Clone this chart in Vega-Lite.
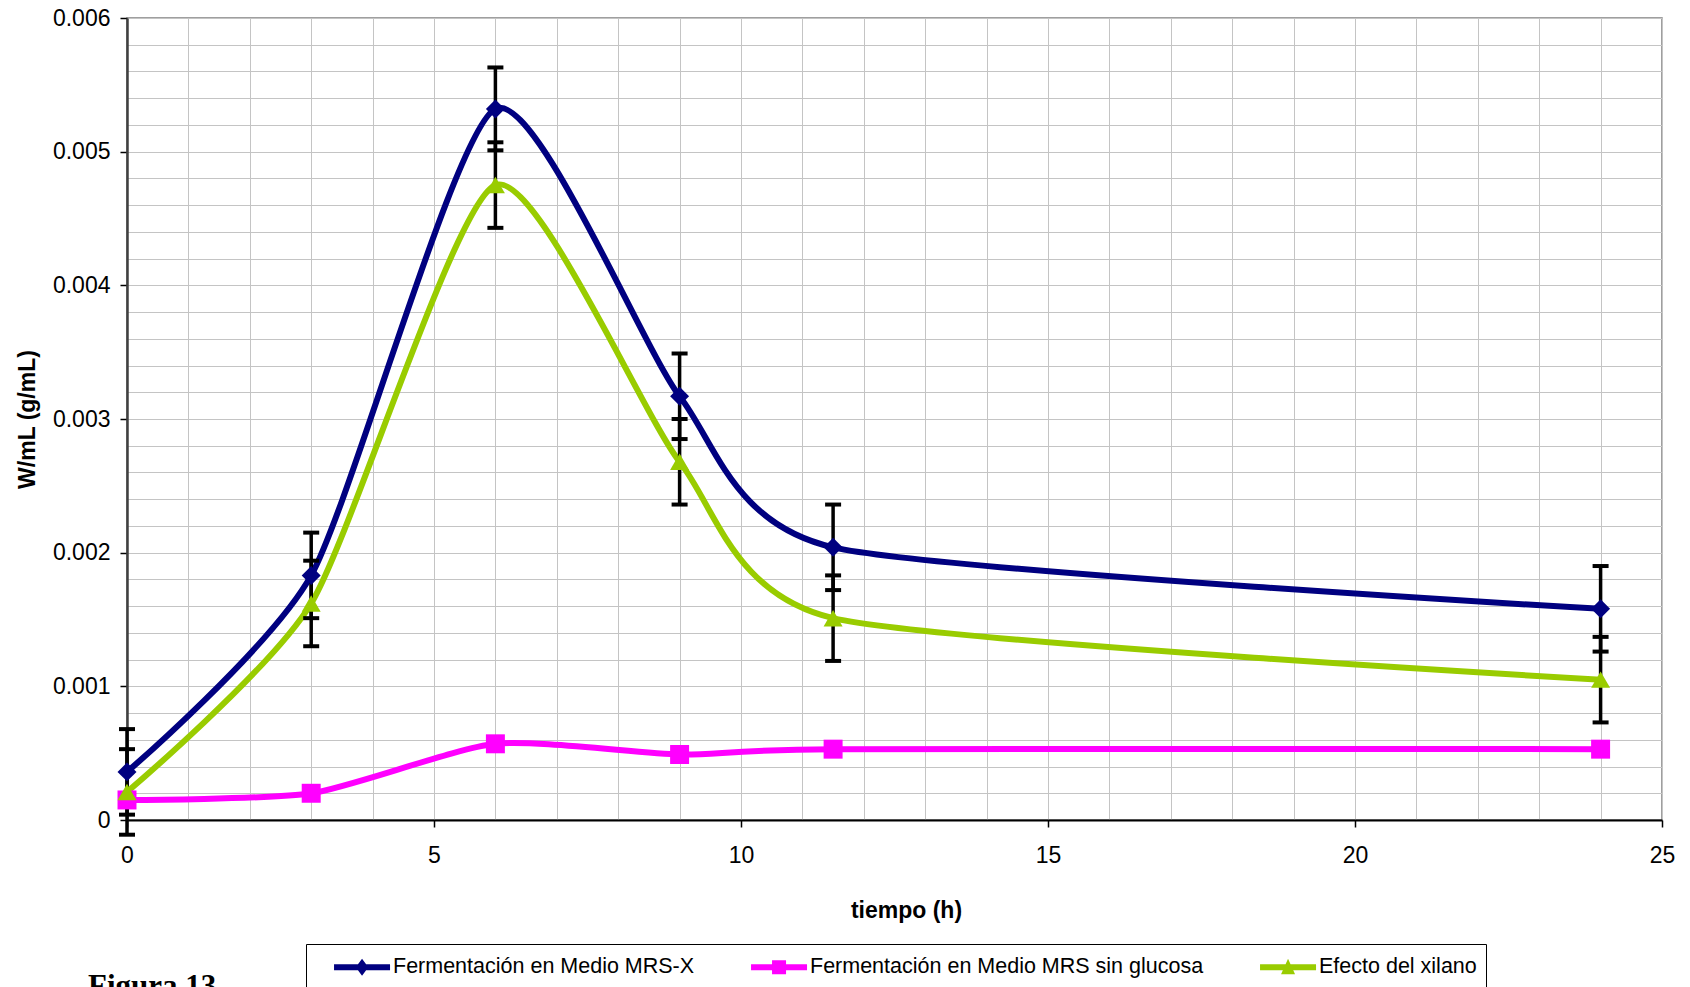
{
  "$schema": "https://vega.github.io/schema/vega-lite/v6.json",
  "autosize": {"type": "none"},
  "padding": {"left": 127, "top": 18, "right": 28, "bottom": 167},
  "width": 1535,
  "height": 802,
  "background": "white",
  "config": {
    "font": "Liberation Sans",
    "view": {"stroke": "#808080", "strokeWidth": 1.5},
    "axis": {"gridColor": "#c4c4c4", "gridWidth": 1, "labelColor": "black", "titleColor": "black"}
  },
  "title": {
    "text": "Figura 13",
    "orient": "bottom",
    "anchor": "start",
    "frame": "group",
    "offset": -16,
    "dx": -39,
    "font": "Liberation Serif",
    "fontSize": 31,
    "fontWeight": "bold",
    "color": "black"
  },
  "data": {
    "values": [
      {"t": 0, "serie": "Fermentación en Medio MRS-X", "v": 0.00036, "lo": 0.00004, "hi": 0.00068},
      {"t": 3, "serie": "Fermentación en Medio MRS-X", "v": 0.00183, "lo": 0.00151, "hi": 0.00215},
      {"t": 6, "serie": "Fermentación en Medio MRS-X", "v": 0.00532, "lo": 0.00501, "hi": 0.00563},
      {"t": 9, "serie": "Fermentación en Medio MRS-X", "v": 0.00317, "lo": 0.00285, "hi": 0.00349},
      {"t": 11.5, "serie": "Fermentación en Medio MRS-X", "v": 0.00204, "lo": 0.00172, "hi": 0.00236},
      {"t": 24, "serie": "Fermentación en Medio MRS-X", "v": 0.00158, "lo": 0.00126, "hi": 0.0019},
      {"t": 0, "serie": "Fermentación en Medio MRS sin glucosa", "v": 0.00015},
      {"t": 3, "serie": "Fermentación en Medio MRS sin glucosa", "v": 0.0002},
      {"t": 6, "serie": "Fermentación en Medio MRS sin glucosa", "v": 0.00057},
      {"t": 9, "serie": "Fermentación en Medio MRS sin glucosa", "v": 0.00049},
      {"t": 11.5, "serie": "Fermentación en Medio MRS sin glucosa", "v": 0.00053},
      {"t": 24, "serie": "Fermentación en Medio MRS sin glucosa", "v": 0.00053},
      {"t": 0, "serie": "Efecto del xilano", "v": 0.00021, "lo": -0.00011, "hi": 0.00053},
      {"t": 3, "serie": "Efecto del xilano", "v": 0.00162, "lo": 0.0013, "hi": 0.00194},
      {"t": 6, "serie": "Efecto del xilano", "v": 0.00475, "lo": 0.00443, "hi": 0.00507},
      {"t": 9, "serie": "Efecto del xilano", "v": 0.00268, "lo": 0.00236, "hi": 0.003},
      {"t": 11.5, "serie": "Efecto del xilano", "v": 0.00151, "lo": 0.00119, "hi": 0.00183},
      {"t": 24, "serie": "Efecto del xilano", "v": 0.00105, "lo": 0.00073, "hi": 0.00137}
    ]
  },
  "resolve": {"scale": {"shape": "independent", "color": "independent"}, "legend": {"color": "independent", "shape": "independent"}},
  "layer": [
    {
      "mark": {"type": "line", "interpolate": "cardinal", "tension": 0.35, "strokeWidth": 6, "clip": false},
      "encoding": {
        "x": {
          "field": "t", "type": "quantitative",
          "scale": {"domain": [0, 25], "nice": false},
          "axis": {
            "values": [0,1,2,3,4,5,6,7,8,9,10,11,12,13,14,15,16,17,18,19,20,21,22,23,24,25],
            "tickCount": 60,
            "grid": true,
            "labelExpr": "datum.value % 5 === 0 ? '' + datum.value : ''",
            "labelOverlap": false,
            "labelFlush": false,
            "labelFontSize": 23,
            "labelPadding": 17,
            "tickSize": 7,
            "tickOpacity": {"condition": {"test": "datum.value % 5 === 0", "value": 1}, "value": 0},
            "tickColor": "black",
            "tickWidth": 1.5,
            "domainColor": "black",
            "domainWidth": 2,
            "title": "tiempo (h)",
            "titleFontSize": 23,
            "titleFontWeight": "bold",
            "titlePadding": 32,
            "titleX": 779
          }
        },
        "y": {
          "field": "v", "type": "quantitative",
          "scale": {"domain": [0, 0.006], "nice": false},
          "axis": {
            "values": [0,0.0002,0.0004,0.0006,0.0008,0.001,0.0012,0.0014,0.0016,0.0018,0.002,0.0022,0.0024,0.0026,0.0028,0.003,0.0032,0.0034,0.0036,0.0038,0.004,0.0042,0.0044,0.0046,0.0048,0.005,0.0052,0.0054,0.0056,0.0058,0.006],
            "tickCount": 60,
            "grid": true,
            "labelExpr": "abs(datum.value*1000 - round(datum.value*1000)) < 0.001 ? (datum.value == 0 ? '0' : format(datum.value, '.3f')) : ''",
            "labelOverlap": false,
            "labelFontSize": 23,
            "labelPadding": 10,
            "tickSize": 7,
            "tickOpacity": {"condition": {"test": "abs(datum.value*1000 - round(datum.value*1000)) < 0.001", "value": 1}, "value": 0},
            "tickColor": "black",
            "tickWidth": 1.5,
            "domainColor": "#404040",
            "domainWidth": 2.5,
            "title": "W/mL (g/mL)",
            "titleFontSize": 23,
            "titleFontWeight": "bold",
            "titlePadding": 13
          }
        },
        "color": {
          "field": "serie", "type": "nominal",
          "scale": {
            "domain": ["Fermentación en Medio MRS-X", "Fermentación en Medio MRS sin glucosa", "Efecto del xilano"],
            "range": ["#000080", "#FF00FF", "#99CC00"]
          },
          "legend": null
        }
      }
    },
    {
      "transform": [{"filter": "isValid(datum.hi)"}],
      "mark": {"type": "rule", "color": "black", "strokeWidth": 3.5, "clip": false},
      "encoding": {
        "x": {"field": "t", "type": "quantitative"},
        "y": {"field": "lo", "type": "quantitative"},
        "y2": {"field": "hi"}
      }
    },
    {
      "transform": [{"filter": "isValid(datum.hi)"}],
      "mark": {"type": "tick", "orient": "horizontal", "color": "black", "size": 16, "thickness": 4, "opacity": 1, "clip": false},
      "encoding": {
        "x": {"field": "t", "type": "quantitative"},
        "y": {"field": "hi", "type": "quantitative"}
      }
    },
    {
      "transform": [{"filter": "isValid(datum.lo)"}],
      "mark": {"type": "tick", "orient": "horizontal", "color": "black", "size": 16, "thickness": 4, "opacity": 1, "clip": false},
      "encoding": {
        "x": {"field": "t", "type": "quantitative"},
        "y": {"field": "lo", "type": "quantitative"}
      }
    },
    {
      "mark": {"type": "point", "filled": true, "opacity": 1, "size": 360, "clip": false},
      "encoding": {
        "x": {"field": "t", "type": "quantitative"},
        "y": {"field": "v", "type": "quantitative"},
        "color": {
          "field": "serie", "type": "nominal",
          "scale": {
            "domain": ["Fermentación en Medio MRS-X", "Fermentación en Medio MRS sin glucosa", "Efecto del xilano"],
            "range": ["#000080", "#FF00FF", "#99CC00"]
          },
          "legend": null
        },
        "shape": {
          "field": "serie", "type": "nominal",
          "scale": {
            "domain": ["Fermentación en Medio MRS-X", "Fermentación en Medio MRS sin glucosa", "Efecto del xilano"],
            "range": ["diamond", "square", "triangle-up"]
          },
          "legend": null
        }
      }
    },
    {
      "mark": {"type": "point", "filled": true, "opacity": 0, "size": 784, "clip": false},
      "encoding": {
        "x": {"field": "t", "type": "quantitative"},
        "y": {"field": "v", "type": "quantitative"},
        "color": {
          "field": "serie", "type": "nominal",
          "scale": {
            "domain": ["Fermentación en Medio MRS-X", "Fermentación en Medio MRS sin glucosa", "Efecto del xilano"],
            "range": ["#000080", "#FF00FF", "#99CC00"]
          },
          "legend": {
            "title": null,
            "orient": "none",
            "legendX": 179,
            "legendY": 926,
            "direction": "horizontal",
            "columns": 3,
            "strokeColor": "black",
            "fillColor": "white",
            "padding": 9,
            "labelFontSize": 21.5,
            "labelColor": "black",
            "labelLimit": 0,
            "labelOffset": 50,
            "columnPadding": 37,
            "symbolSize": 784,
            "symbolOpacity": 1,
            "symbolStrokeWidth": 0
          }
        },
        "shape": {
          "field": "serie", "type": "nominal",
          "scale": {
            "domain": ["Fermentación en Medio MRS-X", "Fermentación en Medio MRS sin glucosa", "Efecto del xilano"],
            "range": [
              "M0.36,-0.21L4.36,-0.21L4.36,0.21L0.36,0.21Z M2.36,-0.6L2.81,0L2.36,0.6L1.91,0Z",
              "M0.36,-0.21L4.36,-0.21L4.36,0.21L0.36,0.21Z M1.86,-0.5L2.86,-0.5L2.86,0.5L1.86,0.5Z",
              "M0.36,-0.21L4.36,-0.21L4.36,0.21L0.36,0.21Z M2.36,-0.6L2.86,0.5L1.86,0.5Z"
            ]
          },
          "legend": {
            "title": null,
            "orient": "none",
            "legendX": 179,
            "legendY": 926,
            "direction": "horizontal",
            "columns": 3,
            "strokeColor": "black",
            "fillColor": "white",
            "padding": 9,
            "labelFontSize": 21.5,
            "labelColor": "black",
            "labelLimit": 0,
            "labelOffset": 50,
            "columnPadding": 37,
            "symbolSize": 784,
            "symbolOpacity": 1,
            "symbolStrokeWidth": 0
          }
        }
      }
    }
  ]
}
